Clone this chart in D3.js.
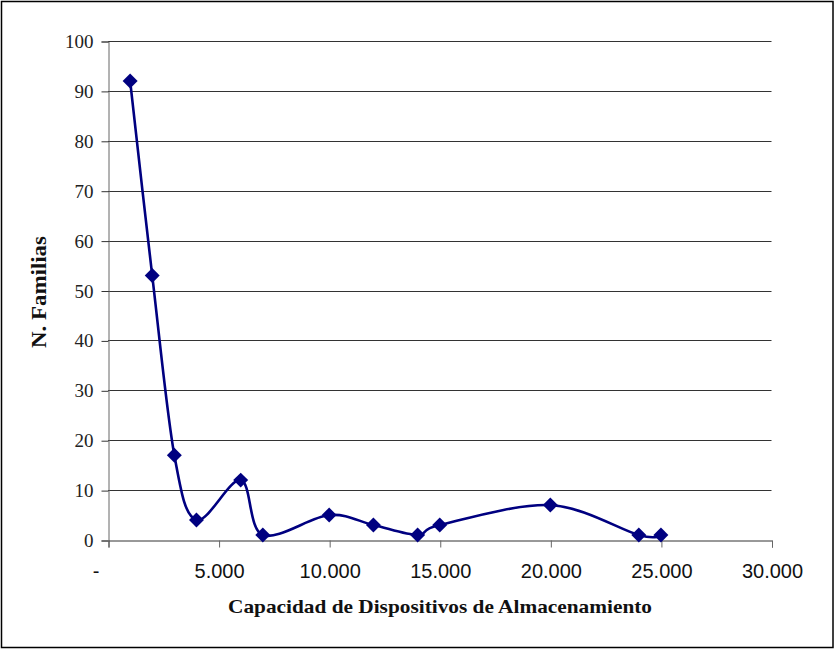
<!DOCTYPE html>
<html>
<head>
<meta charset="utf-8">
<script src="https://cdn.jsdelivr.net/npm/d3@7/dist/d3.min.js"></script>
<style>
  html, body { margin: 0; padding: 0; background: #fff; }
  svg { display: block; }
</style>
</head>
<body>
<svg id="chart" width="835" height="650"></svg>
<script>
// Data
const capacidad = [1000, 2000, 3000, 4000, 6000, 7000, 10000, 12000, 14000, 15000, 20000, 24000, 25000];
const familias  = [92, 53, 17, 4, 12, 1, 5, 3, 1, 3, 7, 1, 1];
const xTicks = [0, 5000, 10000, 15000, 20000, 25000, 30000];
const xTickLabels = ["-", "5.000", "10.000", "15.000", "20.000", "25.000", "30.000"];
const yTicks = [0, 10, 20, 30, 40, 50, 60, 70, 80, 90, 100];
const xTitle = "Capacidad de Dispositivos de Almacenamiento";
const yTitle = "N. Familias";

const svg = d3.select("#chart");
const W = 835, H = 650;
const m = { left: 108, right: 835 - 771.5, top: 41, bottom: 650 - 540 };

// Outer border
svg.append("rect")
  .attr("x", 1.5).attr("y", 1.5)
  .attr("width", 831.5).attr("height", 646)
  .attr("fill", "#fff").attr("stroke", "#000").attr("stroke-width", 1.5);

const x = d3.scaleLinear().domain([0, 30000]).range([m.left, W - m.right]);
const y = d3.scaleLinear().domain([0, 100]).range([H - m.bottom, m.top]);

// Gridlines
svg.append("g")
  .selectAll("line")
  .data(yTicks.filter(d => d > 0))
  .join("line")
  .attr("x1", x(0)).attr("x2", x(30000))
  .attr("y1", d => Math.round(y(d)) + 0.5).attr("y2", d => Math.round(y(d)) + 0.5)
  .attr("stroke", "#333").attr("stroke-width", 1);

// Y axis
const yAxis = svg.append("g")
  .attr("transform", `translate(${Math.round(x(0)) + 0.5},0.5)`)
  .call(d3.axisLeft(y).tickValues(yTicks).tickSize(7).tickPadding(8).tickFormat(d3.format("d")));
yAxis.select(".domain").attr("stroke", "#666").attr("stroke-width", 1);
yAxis.selectAll(".tick line").attr("stroke", "#333");
yAxis.selectAll(".tick text")
  .attr("font-family", "'Liberation Serif', 'DejaVu Serif', serif")
  .attr("font-size", 19).attr("fill", "#222");

// X axis
const xAxis = svg.append("g")
  .attr("transform", `translate(0.5,${Math.round(y(0)) + 0.5})`)
  .call(d3.axisBottom(x).tickValues(xTicks).tickSize(7).tickPadding(16)
    .tickFormat((d, i) => xTickLabels[i]));
xAxis.select(".domain").attr("stroke", "#333").attr("stroke-width", 1);
xAxis.selectAll(".tick line").attr("stroke", "#666");
xAxis.selectAll(".tick text")
  .attr("font-family", "'Liberation Sans', Arial, sans-serif")
  .attr("font-size", 20).attr("fill", "#111")
  .attr("dx", (d, i) => i === 0 ? -13 : 0);

// Line
const pts = capacidad.map((c, i) => [c, familias[i]]);
const line = d3.line()
  .x(d => x(d[0])).y(d => y(d[1]))
  .curve(d3.curveCardinal.tension(0));
svg.append("path")
  .datum(pts)
  .attr("d", line)
  .attr("fill", "none")
  .attr("stroke", "#000080")
  .attr("stroke-width", 2.6);

// Markers (diamonds)
const diamond = d3.symbol().type(d3.symbolSquare).size(112);
svg.append("g")
  .selectAll("path")
  .data(pts)
  .join("path")
  .attr("d", diamond)
  .attr("transform", d => `translate(${x(d[0])},${y(d[1])}) rotate(45)`)
  .attr("fill", "#000080");

// Axis titles
svg.append("text")
  .attr("x", 440).attr("y", 613)
  .attr("text-anchor", "middle")
  .attr("font-family", "'Liberation Serif', 'DejaVu Serif', serif")
  .attr("font-weight", "bold").attr("font-size", 19)
  .attr("textLength", 424).attr("lengthAdjust", "spacingAndGlyphs")
  .attr("fill", "#111")
  .text(xTitle);

svg.append("text")
  .attr("transform", "translate(46,292) rotate(-90)")
  .attr("text-anchor", "middle")
  .attr("font-family", "'Liberation Serif', 'DejaVu Serif', serif")
  .attr("font-weight", "bold").attr("font-size", 20)
  .attr("textLength", 112).attr("lengthAdjust", "spacingAndGlyphs")
  .attr("fill", "#111")
  .text(yTitle);
</script>
</body>
</html>
